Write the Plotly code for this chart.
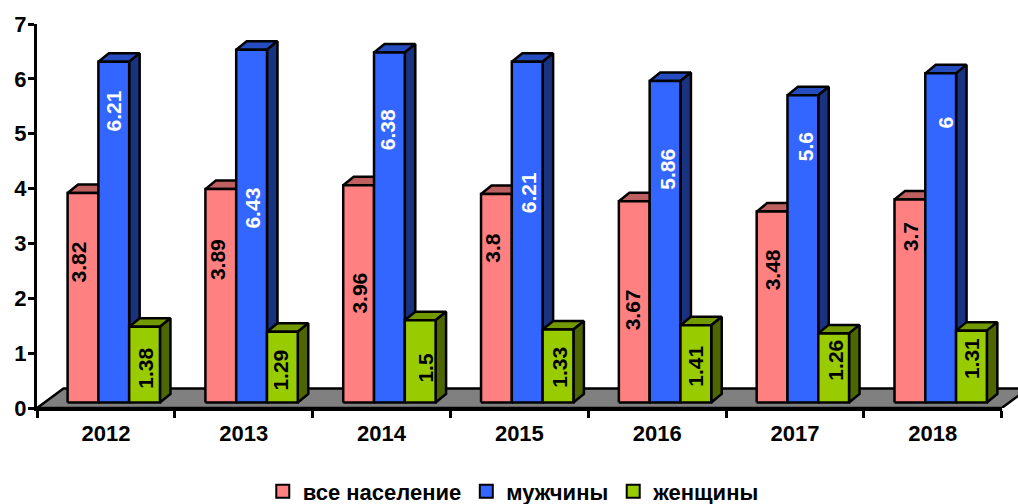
import plotly.graph_objects as go

years = ["2012", "2013", "2014", "2015", "2016", "2017", "2018"]
series_names = ["все население", "мужчины", "женщины"]
all_pop = [3.82, 3.89, 3.96, 3.8, 3.67, 3.48, 3.7]
men = [6.21, 6.43, 6.38, 6.21, 5.86, 5.6, 6]
women = [1.38, 1.29, 1.5, 1.33, 1.41, 1.26, 1.31]
labels = [["3.82", "3.89", "3.96", "3.8", "3.67", "3.48", "3.7"],
          ["6.21", "6.43", "6.38", "6.21", "5.86", "5.6", "6"],
          ["1.38", "1.29", "1.5", "1.33", "1.41", "1.26", "1.31"]]
# hand-placed label heights (value-axis units) and horizontal nudges (px)
label_y = [[2.67, 2.70, 2.10, 2.92, 1.79, 2.52, 3.13],
           [5.42, 3.65, 5.07, 3.93, 4.36, 4.77, 5.20],
           [0.72, 0.70, 0.74, 0.74, 0.76, 0.87, 0.90]]
label_dx = [[-4, -2.6, 1.2, -3.5, -1.7, 0.5, 0],
            [0, 1.2, -2, 1.6, 2.8, 2, 5],
            [0.7, -1.4, 5, 1.3, -0.5, 1.7, 0]]

front = ["#FF8080", "#3366FF", "#99CC00"]
top = ["#BF6060", "#264DBF", "#739900"]
side = ["#804040", "#1A3380", "#4D6600"]
text_col = ["black", "white", "black"]

STEP_PX = 137.86
UNIT_PX = 54.9
PLOT_L, PLOT_T, PLOT_B = 36.7, 23.7, 408.3
W, H = 1018, 504
x_max = (W - PLOT_L) / STEP_PX
bar_w = 30.8 / STEP_PX
group_off = 30.6 / STEP_PX
base = 5.5 / UNIT_PX
dx, dy = 10.5 / STEP_PX, 8.5 / UNIT_PX
floor_dx, floor_dy = 26.5 / STEP_PX, 19.5 / UNIT_PX
OUT = dict(color="black", width=2.5)


def poly(xs, ys, color):
    return go.Scatter(x=xs, y=ys, xaxis="x", yaxis="y", mode="lines", fill="toself",
                      fillcolor=color, line=OUT, hoverinfo="skip", showlegend=False)


fig = go.Figure()
# floor
fig.add_trace(poly([0, floor_dx, 7 + floor_dx, 7, 0], [0, floor_dy, floor_dy, 0, 0], "#808080"))

annots = []
for s, vals in enumerate([all_pop, men, women]):
    tx, ty, sx, sy, fx, fy = [], [], [], [], [], []
    for i, v in enumerate(vals):
        l = i + group_off + s * bar_w
        r = l + bar_w
        t = base + v
        tx += [l, l + dx, r + dx, r, l, None]
        ty += [t, t + dy, t + dy, t, t, None]
        sx += [r, r + dx, r + dx, r, r, None]
        sy += [t, t + dy, base + dy, base, t, None]
        fx += [l, r, r, l, l, None]
        fy += [base, base, t, t, base, None]
        annots.append(dict(x=(l + r) / 2, y=label_y[s][i], xref="x", yref="y", text=labels[s][i],
                           textangle=-90, showarrow=False, xshift=label_dx[s][i],
                           font=dict(family="Liberation Sans", size=21, color=text_col[s],
                                     weight="bold")))
    fig.add_trace(poly(tx, ty, top[s]))
    fig.add_trace(poly(sx, sy, side[s]))
    fig.add_trace(poly(fx, fy, front[s]))

for s, name in enumerate(series_names):
    fig.add_trace(go.Scatter(x=[None], y=[None], xaxis="x", yaxis="y", mode="markers", name=name,
                             marker=dict(symbol="square", size=13, color=front[s],
                                         line=dict(color="black", width=2))))
# invisible trace so the category axis owns its labels
fig.add_trace(go.Scatter(x=years, y=[0] * 7, xaxis="x2", yaxis="y", mode="markers",
                         marker=dict(opacity=0), hoverinfo="skip", showlegend=False))

fig.update_layout(
    width=W, height=H,
    margin=dict(l=PLOT_L, r=0, t=PLOT_T, b=H - PLOT_B, pad=0),
    paper_bgcolor="white", plot_bgcolor="rgba(0,0,0,0)",
    font=dict(family="Liberation Sans", size=22, color="black", weight="bold"),
    annotations=annots,
    xaxis=dict(range=[0, x_max], domain=[0, 1], visible=False, fixedrange=True),
    xaxis2=dict(type="category", categoryorder="array", categoryarray=years, range=[-0.5, 6.5],
                domain=[0, 7 * STEP_PX / (W - PLOT_L)], anchor="y", side="bottom",
                tickson="boundaries", ticks="outside", ticklen=7, tickwidth=2.5, tickcolor="black",
                showline=True, linecolor="black", linewidth=3, showgrid=False, zeroline=False,
                fixedrange=True, ticklabelstandoff=4, tickfont=dict(size=22)),
    yaxis=dict(range=[0, 7], dtick=1, ticks="outside", ticklen=6, tickwidth=2.5, tickcolor="black",
               showline=True, linecolor="black", linewidth=3, showgrid=False, zeroline=False,
               fixedrange=True, anchor="x", ticklabelstandoff=-3, tickfont=dict(size=22)),
    legend=dict(orientation="h", x=0.486, xanchor="center", y=0.025, yanchor="middle",
                yref="container", itemwidth=30, font=dict(size=22), bgcolor="rgba(0,0,0,0)"),
)
fig.write_html("out.html", config=dict(displayModeBar=False),
               post_script="document.body.style.margin='0';")
